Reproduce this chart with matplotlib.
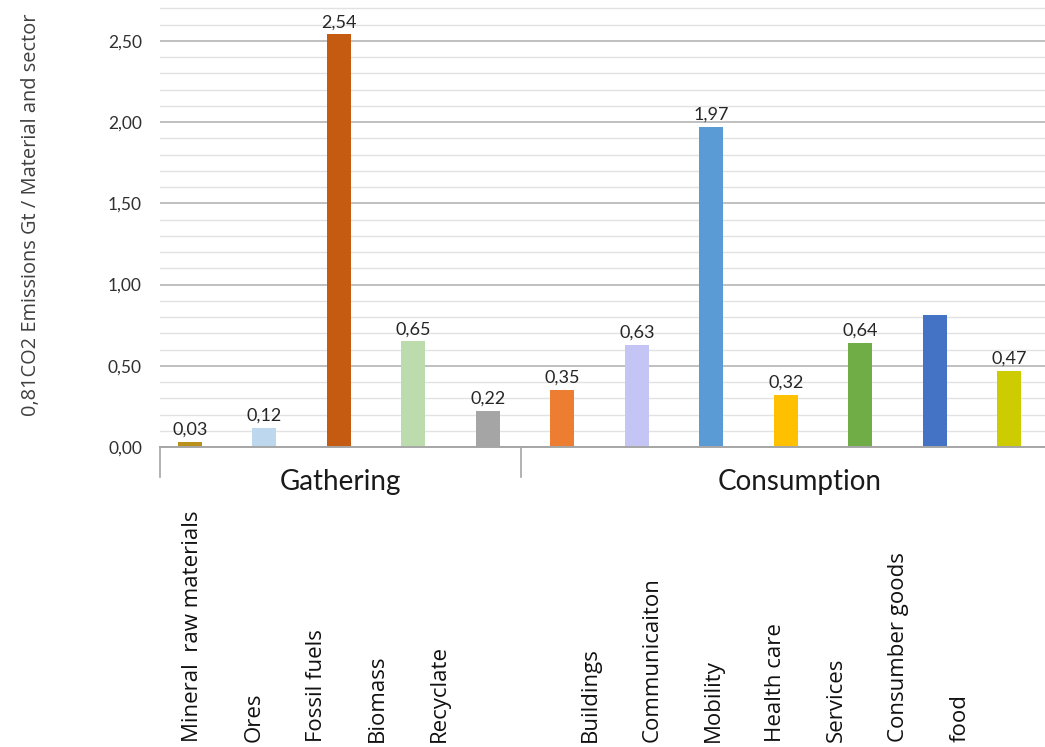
import numpy as np
import matplotlib
matplotlib.use("Agg")
import matplotlib.pyplot as plt
from matplotlib.ticker import MultipleLocator, FuncFormatter

# emissions per material / sector, Gt CO2
categories = ["Mineral  raw materials", "Ores", "Fossil fuels", "Biomass", "Recyclate",
              "Buildings", "Communicaiton", "Mobility", "Health care", "Services",
              "Consumber goods", "food"]
values = [0.03, 0.12, 2.54, 0.65, 0.22,
          0.35, 0.63, 1.97, 0.32, 0.64, 0.81, 0.47]
# consumer goods value ended up in the axis title instead of on the bar
show_label = [True] * 10 + [False, True]
colors = ["#b8901a", "#bdd7ee", "#c55a11", "#bcdcad", "#a5a5a5",
          "#ed7d31", "#c5c5f5", "#5b9bd5", "#ffc000", "#70ad47", "#4472c4", "#cccc00"]
groups = ["Gathering", "Consumption"]
group_sizes = [5, 7]
ylabel = "0,81CO2 Emissions Gt / Material and sector"


def comma(v, pos=None):
    return f"{v:.2f}".replace(".", ",")


W, H = 1045, 747
fig = plt.figure(figsize=(W / 100, H / 100), dpi=100)
ax = fig.add_axes([160 / W, 1 - 447 / H, 1 - 160 / W, (447 - 2) / H])

x = np.arange(len(values))
ax.bar(x, values, width=0.32, color=colors, zorder=3)
for xi, v, lab in zip(x, values, show_label):
    if lab:
        ax.annotate(comma(v), (xi, v), xytext=(0, 3), textcoords="offset points",
                    ha="center", va="bottom", fontsize=13, family="Lato", color="#262626")

ax.set_xlim(-0.4, 11.48)
ax.set_ylim(0, 2.74)
ax.yaxis.set_major_locator(MultipleLocator(0.5))
ax.yaxis.set_minor_locator(MultipleLocator(0.1))
ax.yaxis.set_major_formatter(FuncFormatter(comma))
ax.grid(axis="y", which="major", color="#c0c0c0", lw=1.4, zorder=0)
ax.grid(axis="y", which="minor", color="#e2e2e2", lw=1.0, zorder=0)
ax.tick_params(axis="y", which="both", length=0, pad=13, labelsize=12.5, labelcolor="#303030")
for t in ax.get_yticklabels():
    t.set_family("Lato")
ax.set_xticks([])
for s in ["top", "right", "left"]:
    ax.spines[s].set_visible(False)
ax.spines["bottom"].set_color("#a6a6a6")
ax.spines["bottom"].set_linewidth(1.4)
ax.spines["bottom"].set_zorder(4)

# group brackets under the axis
bounds = np.r_[-0.4, np.cumsum(group_sizes) - 0.56]
bounds[-1] += 0.5
trans = ax.get_xaxis_transform()
for b in bounds[:-1]:
    ax.plot([b, b], [0, -30 / 445], transform=trans, color="#a6a6a6", lw=1.2, clip_on=False)
for g, lo, hi in zip(groups, bounds[:-1], bounds[1:]):
    ax.text((lo + hi) / 2, -35 / 445, g, transform=trans, ha="center", va="center",
            fontsize=20, family="Lato", color="#1a1a1a")

# category names, rotated, in their own row below the groups
slots = np.r_[np.arange(group_sizes[0]), np.arange(group_sizes[1]) + 6.45]
for k, name in zip(slots, categories):
    fig.text((193 + 61.6 * k) / W, 1 - 742 / H, name, rotation=90, ha="center", va="bottom",
             fontsize=16, family="Open Sans", color="#111111")

fig.text(31 / W, 1 - 215 / H, ylabel, rotation=90, ha="center", va="center",
         fontsize=14.4, family="Open Sans", color="#404040")

fig.savefig("out.png", dpi=100)
